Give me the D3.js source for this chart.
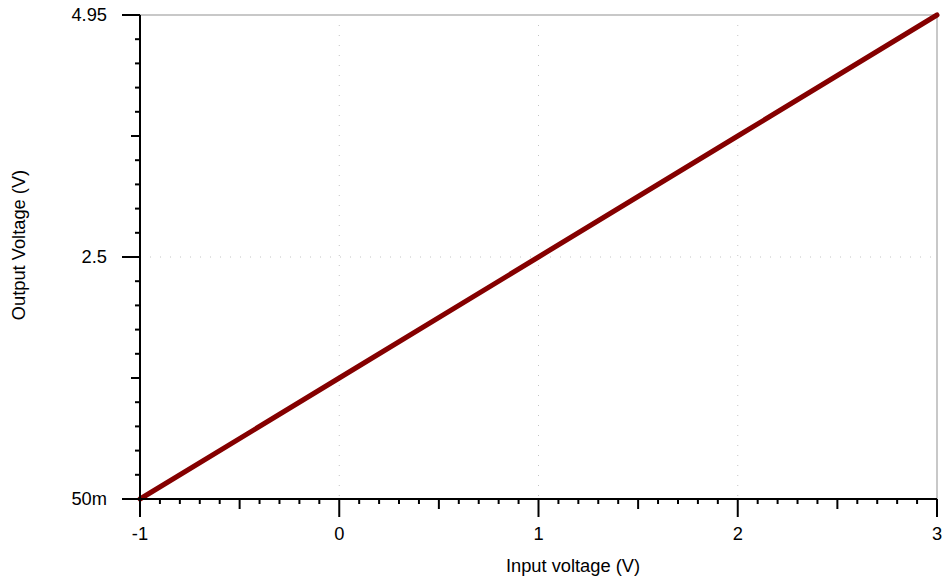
<!DOCTYPE html>
<html>
<head>
<meta charset="utf-8">
<script src="https://cdn.jsdelivr.net/npm/d3@7/dist/d3.min.js"></script>
<style>
  html, body { margin: 0; padding: 0; background: #fff; }
  svg { display: block; font-family: "Liberation Sans", Arial, sans-serif; }
</style>
</head>
<body>
<div id="chart"></div>
<script>
// transfer curve: input voltage vs output voltage
const inputVolts = [-1, 0, 1, 2, 3];
const outputVolts = [0.05, 1.275, 2.5, 3.725, 4.95];

const xMajorTicks = [-1, 0, 1, 2, 3];
const xTickLabels = ['-1', '0', '1', '2', '3'];
const yMajorTicks = [0.05, 2.5, 4.95];
const yTickLabels = ['50m', '2.5', '4.95'];

const width = 945, height = 582;
const plotLeft = 140, plotRight = 937, plotTop = 15, plotBottom = 499;
const fontSize = 18.3;

const svg = d3.select('#chart').append('svg')
    .attr('width', width)
    .attr('height', height);

const x = d3.scaleLinear().domain([-1, 3]).range([plotLeft, plotRight]);
const y = d3.scaleLinear().domain([0.05, 4.95]).range([plotBottom, plotTop]);

// minor tick positions
const xMinor = d3.range(0, 41).map(i => +(-1 + i * 0.1).toFixed(2));
const yMinor = d3.range(0, 21).map(i => +(0.05 + i * 0.245).toFixed(4));

// grid (dotted)
const grid = svg.append('g');
grid.selectAll('line.gx')
    .data([0, 1, 2])
    .join('line')
    .attr('x1', d => x(d)).attr('x2', d => x(d))
    .attr('y1', plotTop).attr('y2', plotBottom)
    .attr('stroke', '#c4c4c4')
    .attr('stroke-width', 1)
    .attr('stroke-dasharray', '1 9');
grid.selectAll('line.gy')
    .data([2.5])
    .join('line')
    .attr('x1', plotLeft).attr('x2', plotRight)
    .attr('y1', d => y(d)).attr('y2', d => y(d))
    .attr('stroke', '#c4c4c4')
    .attr('stroke-width', 1)
    .attr('stroke-dasharray', '1 9');

// top & right border
svg.append('path')
    .attr('d', `M${plotLeft},${plotTop}H${plotRight}V${plotBottom}`)
    .attr('fill', 'none')
    .attr('stroke', '#c8c8c8')
    .attr('stroke-width', 2);

// data line
const line = d3.line().x((d, i) => x(inputVolts[i])).y(d => y(d));
svg.append('path')
    .datum(outputVolts)
    .attr('d', line)
    .attr('fill', 'none')
    .attr('stroke', '#850000')
    .attr('stroke-width', 5)
    .attr('stroke-linecap', 'round');

// x axis
const xAxis = svg.append('g');
xAxis.selectAll('line.tick')
    .data(xMinor)
    .join('line')
    .attr('x1', d => x(d)).attr('x2', d => x(d))
    .attr('y1', plotBottom)
    .attr('y2', (d, i) => {
        if (i % 10 === 0) return plotBottom + 18;
        if (i % 5 === 0) return plotBottom + 10;
        return plotBottom + 5;
    })
    .attr('stroke', '#000')
    .attr('stroke-width', 2);
xAxis.append('line')
    .attr('x1', plotLeft - 1).attr('x2', plotRight)
    .attr('y1', plotBottom).attr('y2', plotBottom)
    .attr('stroke', '#000').attr('stroke-width', 2);
xAxis.selectAll('text')
    .data(xMajorTicks)
    .join('text')
    .attr('x', d => x(d))
    .attr('y', plotBottom + 41)
    .attr('text-anchor', 'middle')
    .attr('font-size', fontSize)
    .attr('fill', '#000')
    .text((d, i) => xTickLabels[i]);

// y axis
const yAxis = svg.append('g');
yAxis.selectAll('line.tick')
    .data(yMinor)
    .join('line')
    .attr('y1', d => y(d)).attr('y2', d => y(d))
    .attr('x1', plotLeft)
    .attr('x2', (d, i) => {
        if (i % 10 === 0) return plotLeft - 18;
        if (i % 5 === 0) return plotLeft - 9;
        return plotLeft - 5;
    })
    .attr('stroke', '#000')
    .attr('stroke-width', 2);
yAxis.append('line')
    .attr('x1', plotLeft).attr('x2', plotLeft)
    .attr('y1', plotTop).attr('y2', plotBottom + 18)
    .attr('stroke', '#000').attr('stroke-width', 2);
yAxis.selectAll('text')
    .data(yMajorTicks)
    .join('text')
    .attr('x', plotLeft - 33)
    .attr('y', d => y(d))
    .attr('dy', '0.35em')
    .attr('text-anchor', 'end')
    .attr('font-size', fontSize)
    .attr('fill', '#000')
    .text((d, i) => yTickLabels[i]);

// axis titles
svg.append('text')
    .attr('x', 573)
    .attr('y', 572)
    .attr('text-anchor', 'middle')
    .attr('font-size', fontSize)
    .attr('fill', '#000')
    .text('Input voltage (V)');
svg.append('text')
    .attr('transform', 'translate(25,245) rotate(-90)')
    .attr('text-anchor', 'middle')
    .attr('font-size', fontSize)
    .attr('fill', '#000')
    .text('Output Voltage (V)');
</script>
</body>
</html>
